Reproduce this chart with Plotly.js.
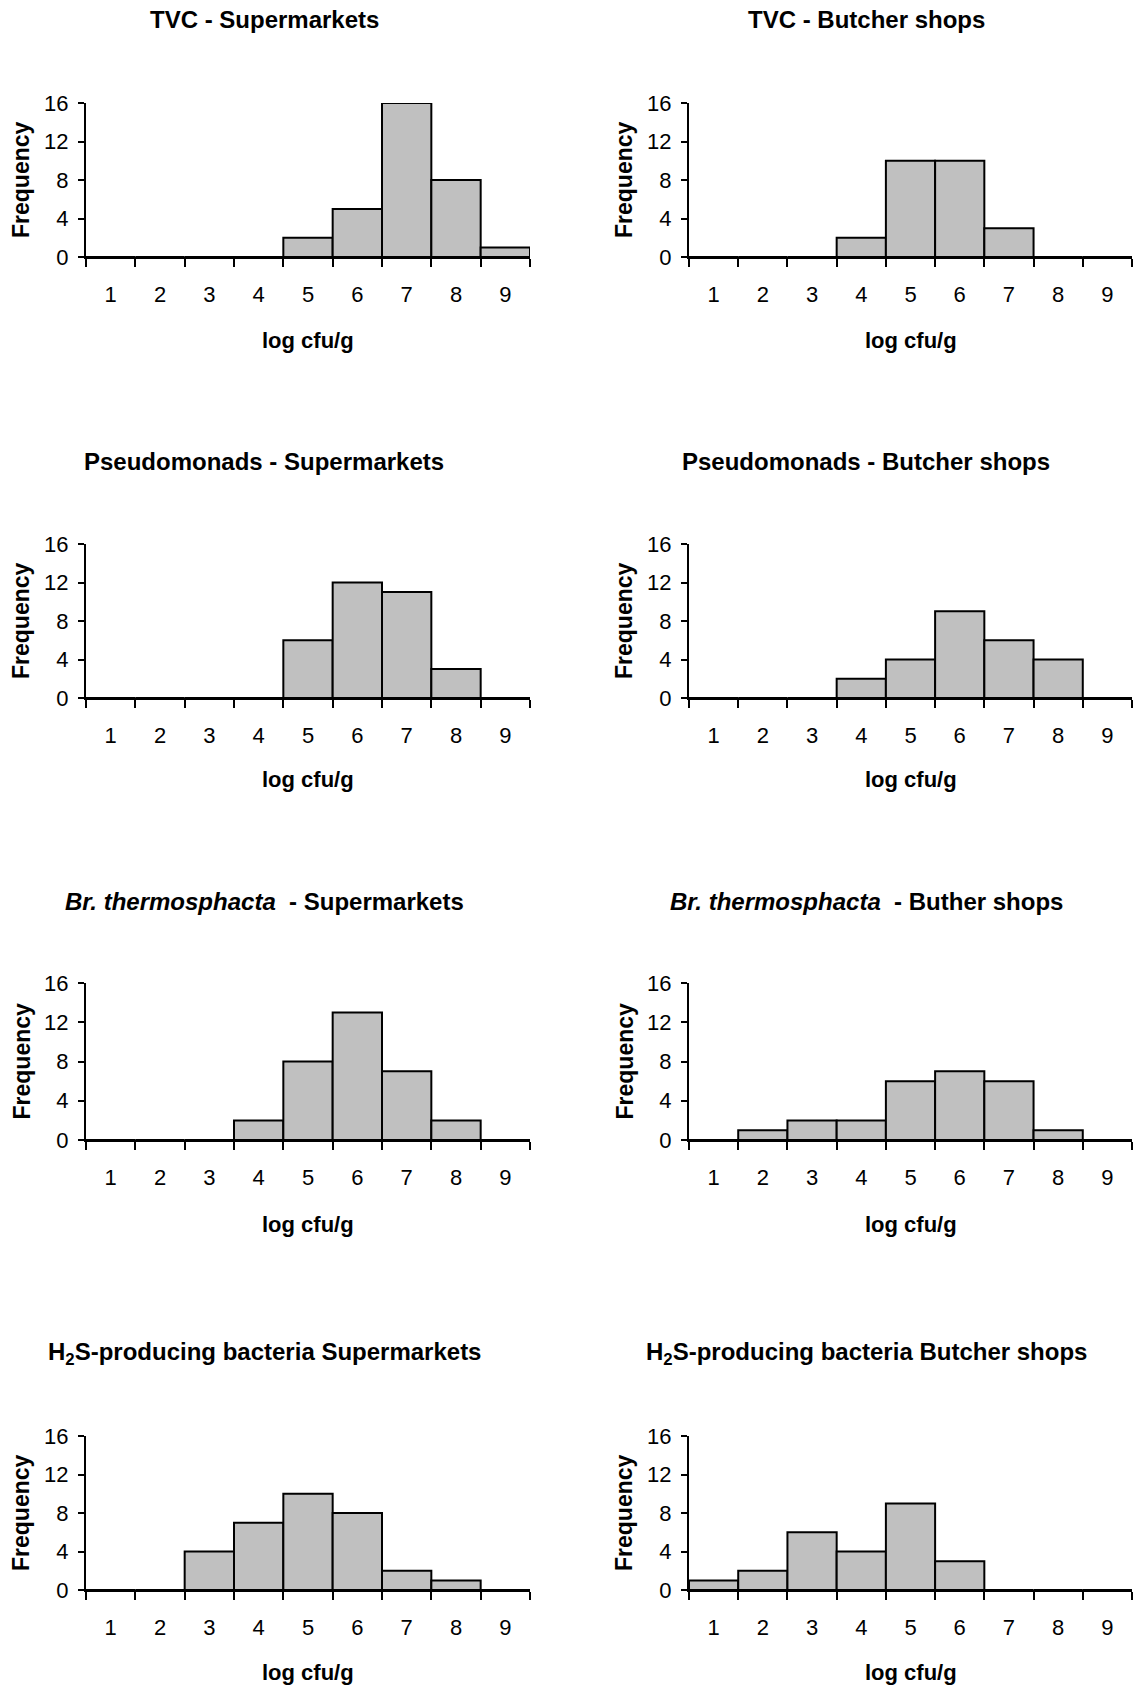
<!DOCTYPE html>
<html>
<head>
<meta charset="utf-8">
<script src="https://cdn.plot.ly/plotly-3.0.1.min.js"></script>
<style>html,body{margin:0;padding:0;background:#fff;}</style>
</head>
<body>
<div id="chart" style="width:1135px;height:1688px;"></div>
<script>
// ---- Data ----
const bins = ['1', '2', '3', '4', '5', '6', '7', '8', '9'];

const tvcSupermarkets      = [0, 0, 0, 0, 2, 5, 16, 8, 1];
const tvcButcher           = [0, 0, 0, 2, 10, 10, 3, 0, 0];
const pseudoSupermarkets   = [0, 0, 0, 0, 6, 12, 11, 3, 0];
const pseudoButcher        = [0, 0, 0, 2, 4, 9, 6, 4, 0];
const brochSupermarkets    = [0, 0, 0, 2, 8, 13, 7, 2, 0];
const brochButcher         = [0, 1, 2, 2, 6, 7, 6, 1, 0];
const h2sSupermarkets      = [0, 0, 4, 7, 10, 8, 2, 1, 0];
const h2sButcher           = [1, 2, 6, 4, 9, 3, 0, 0, 0];

const panelTitles = [
  'TVC - Supermarkets',
  'TVC - Butcher shops',
  'Pseudomonads - Supermarkets',
  'Pseudomonads - Butcher shops',
  '<i>Br. thermosphacta</i>  - Supermarkets',
  '<i>Br. thermosphacta</i>  - Buther shops',
  'H<sub>2</sub>S-producing bacteria Supermarkets',
  'H<sub>2</sub>S-producing bacteria Butcher shops'
];
const panelValues = [tvcSupermarkets, tvcButcher, pseudoSupermarkets, pseudoButcher,
                     brochSupermarkets, brochButcher, h2sSupermarkets, h2sButcher];
const xTitle = 'log cfu/g';
const yTitle = 'Frequency';
const yTicks = [0, 4, 8, 12, 16];

// ---- Layout geometry (pixels) ----
const W = 1135, H = 1688;
const colX = [[86, 530], [689, 1132]];
const rowY = [[103, 257], [544, 698], [983, 1140], [1436, 1590]];
const titleY = [20, 461, 901, 1353];
const titleX = [264, 866];
const xTitleY = [340, 779, 1224, 1672];
const yTitleX = [21, 624];

const FONT = 'Liberation Sans, Arial, Helvetica, sans-serif';

const data = [];
const layout = {
  width: W, height: H,
  margin: {l: 0, r: 0, t: 0, b: 0},
  paper_bgcolor: '#fff', plot_bgcolor: 'rgba(0,0,0,0)',
  showlegend: false,
  bargap: 0,
  font: {family: FONT, color: '#000', size: 20},
  annotations: []
};

panelValues.forEach((vals, i) => {
  const k = i + 1;
  const row = Math.floor(i / 2), col = i % 2;
  const xs = k === 1 ? '' : String(k);
  data.push({
    type: 'bar', x: bins, y: vals,
    xaxis: 'x' + xs, yaxis: 'y' + xs,
    width: 1,
    marker: {color: '#c0c0c0', line: {color: '#000', width: 2}},
    hoverinfo: 'x+y'
  });
  const [x0, x1] = colX[col];
  const [y0, y1] = rowY[row];
  layout['xaxis' + xs] = {
    domain: [x0 / W, x1 / W], anchor: 'y' + xs,
    type: 'category', range: [-0.5, 8.5],
    tickson: 'boundaries', ticks: 'outside', ticklen: 8, tickwidth: 2, tickcolor: '#000',
    showline: true, linecolor: '#000', linewidth: 2,
    showgrid: false, zeroline: false,
    tickfont: {family: FONT, size: 22, color: '#000'},
    ticklabelstandoff: 17,
    fixedrange: true
  };
  layout['yaxis' + xs] = {
    domain: [1 - y1 / H, 1 - y0 / H], anchor: 'x' + xs,
    range: [0, 16], tickvals: yTicks, ticktext: yTicks.map(String),
    ticks: 'outside', ticklen: 6, tickwidth: 2, tickcolor: '#000',
    showline: true, linecolor: '#000', linewidth: 2,
    showgrid: false, zeroline: false,
    tickfont: {family: FONT, size: 22, color: '#000'},
    ticklabelstandoff: 5,
    fixedrange: true
  };
  layout.annotations.push({
    text: '<b>' + panelTitles[i] + '</b>',
    xref: 'paper', yref: 'paper',
    x: titleX[col] / W, y: 1 - titleY[row] / H,
    xanchor: 'center', yanchor: 'middle', showarrow: false,
    font: {family: FONT, size: 24, color: '#000'}
  });
  layout.annotations.push({
    text: '<b>' + xTitle + '</b>',
    xref: 'paper', yref: 'paper',
    x: ((x0 + x1) / 2) / W, y: 1 - xTitleY[row] / H,
    xanchor: 'center', yanchor: 'middle', showarrow: false,
    font: {family: FONT, size: 22, color: '#000'}
  });
  layout.annotations.push({
    text: '<b>' + yTitle + '</b>',
    xref: 'paper', yref: 'paper',
    x: yTitleX[col] / W, y: 1 - ((y0 + y1) / 2) / H,
    xanchor: 'center', yanchor: 'middle', showarrow: false, textangle: -90,
    font: {family: FONT, size: 23, color: '#000'}
  });
});

Plotly.newPlot('chart', data, layout, {displayModeBar: false, staticPlot: true});
</script>
</body>
</html>
